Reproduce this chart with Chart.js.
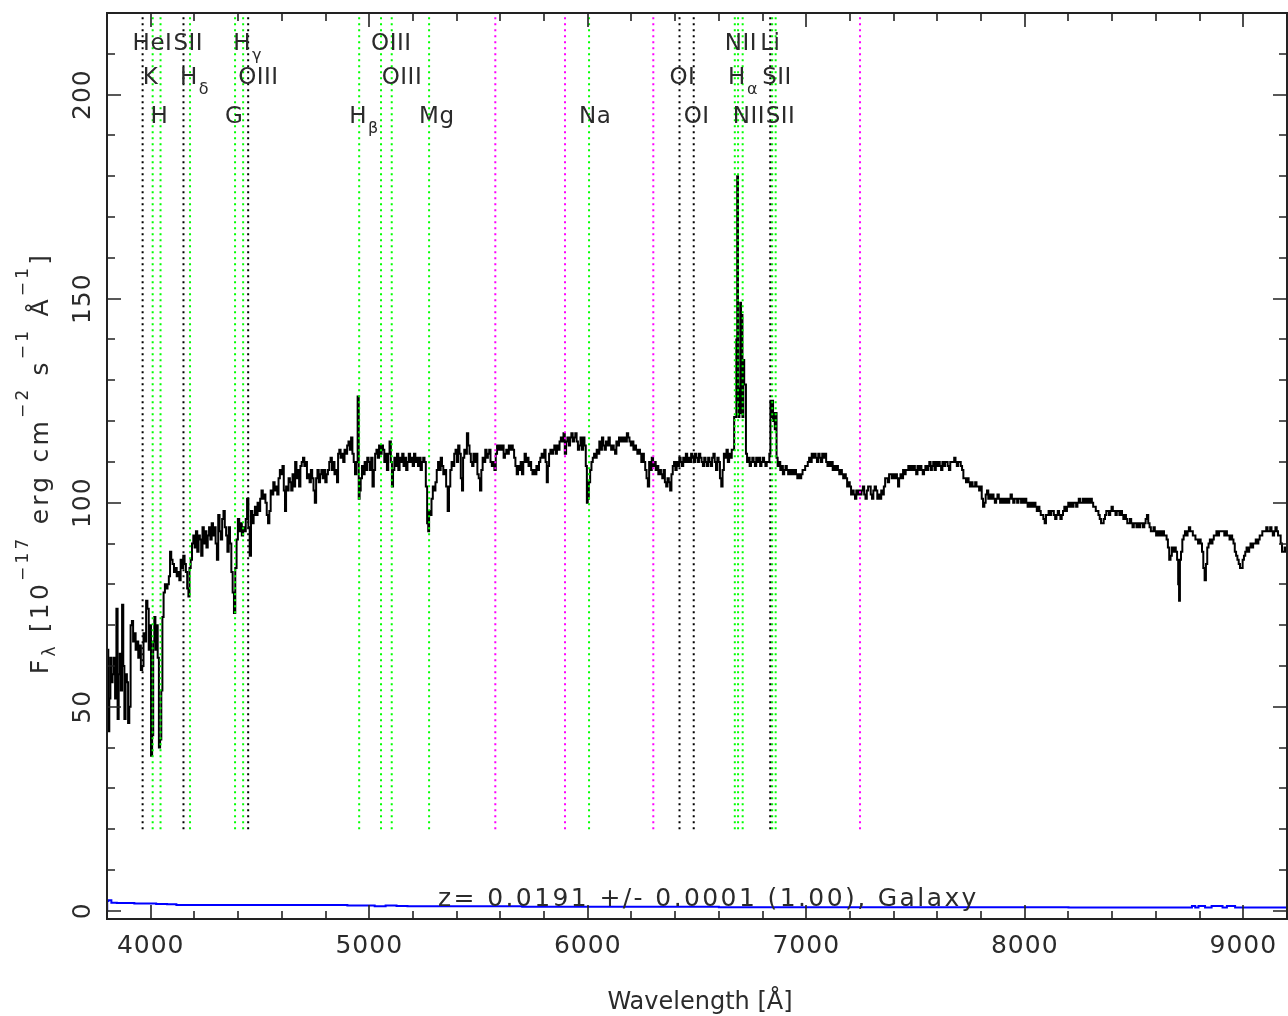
<!DOCTYPE html>
<html><head><meta charset="utf-8">
<script src="https://cdn.jsdelivr.net/npm/chart.js@4.4.1/dist/chart.umd.min.js"></script>
<style>html,body{margin:0;padding:0;background:#fff;}#wrap{width:1288px;height:1016px;position:relative;}</style>
</head><body><div id="wrap"><canvas id="c"></canvas></div>
<script>
// ---------- axis ranges & ticks ----------
const xMin = 3800, xMax = 9200, yMin = -2, yMax = 220;
const xTickValues = [4000, 5000, 6000, 7000, 8000, 9000];
const xTickLabels = ['4000', '5000', '6000', '7000', '8000', '9000'];
const yTickValues = [0, 50, 100, 150, 200];
const yTickLabels = ['0', '50', '100', '150', '200'];
const xMinorStep = 200, yMinorStep = 10;

// ---------- observed spectrum (wavelength in Å, flux in 1e-17 erg/cm2/s/Å) ----------
const wavelength = [
 3800,3804,3808,3813,3818,3823,3828,3834,3840,3846,3851,3856,3861,3866,3872,3877,3882,3888,3894,3899,
 3905,3911,3917,3922,3928,3934,3940,3946,3952,3958,3964,3970,3976,3982,3988,3994,3999,4004,4009,4014,
 4019,4024,4029,4035,4040,4046,4051,4056,4062,4068,4074,4080,4086,4091,4097,4103,4110,4116,4122,4128,
 4134,4140,4146,4152,4158,4164,4170,4175,4180,4186,4192,4198,
 4204,4210,4216,4222,4228,4234,4240,4246,4252,4258,4264,4270,4276,4282,4288,4294,4300,4306,4312,4318,
 4324,4330,4336,4342,4348,4354,4360,4366,4372,4378,4384,4390,4396,4402,4408,4414,4420,4426,4432,4438,
 4444,4450,4456,4462,4468,4474,4480,4486,4492,4498,4504,4510,4516,4522,4528,4534,4540,4546,4552,4558,
 4564,4570,4576,4582,4588,4594,4600,4606,4612,4617,4622,4628,4634,4640,4646,4652,4658,4664,4670,4676,
 4682,4688,4694,4700,4706,4712,4718,4724,4730,4736,4742,4748,4754,4760,4766,4772,4778,4784,4790,4796,
 4802,4808,4814,4820,4826,4832,4838,4844,4850,4855,4860,4866,4872,4878,4884,4890,4896,4902,4908,4914,
 4920,4926,4932,4938,4944,4950,4954,4958,
 4964,4970,4976,4982,4988,4994,5000,5006,5012,5018,5024,5030,5036,5042,5048,5054,5060,5066,5072,5078,
 5084,5090,5096,5102,5106,5112,5118,5124,5130,5136,5142,5148,5154,5160,5166,5172,5178,5184,5190,5196,
 5202,5208,5214,5220,5226,5232,5238,5244,5250,5256,5262,5268,5272,5276,5282,5288,5294,5300,5306,5312,
 5318,5324,5330,5336,5342,5348,5356,5362,5368,5374,5380,5386,5392,5398,5404,5410,5416,5422,5427,5432,
 5438,5444,5450,5456,5462,5468,5474,5480,5486,5492,5498,5504,5510,5516,5522,5528,5534,5540,5546,5552,
 5558,5564,5570,5576,5582,5588,5594,5600,5606,5612,5618,5624,5630,5636,5642,5648,5654,5660,5666,5672,
 5678,5684,5690,5696,
 5702,5708,5714,5720,5726,5732,5738,5744,5750,5756,5762,5768,5774,5780,5786,5792,5798,5804,5810,5815,
 5820,5826,5832,5838,5844,5850,5856,5862,5868,5874,5880,5886,5892,5898,5904,5910,5916,5922,5928,5934,
 5940,5946,5952,5958,5964,5970,5976,5982,5988,5994,5998,6002,6008,6014,6020,6026,6032,6038,6044,6050,
 6056,6062,6068,6074,6080,6086,6092,6098,6104,6110,6116,6122,6128,6134,6140,6146,6152,6158,6164,6170,
 6176,6182,6188,6194,6200,6206,6212,6218,6224,6230,6236,6242,6248,6254,6260,6266,6272,6278,6284,6290,
 6296,6302,6308,6314,6320,6326,6332,6338,6344,6350,6356,6362,6368,6374,6380,6386,6392,6398,6404,6410,
 6416,6422,6428,6434,6440,6446,6452,6458,6464,6470,6476,6482,6488,6494,6500,6506,6512,6518,6524,6530,
 6536,6542,6548,6554,6560,6566,6572,6578,6584,6590,6596,6602,6608,6614,6620,6626,6632,6638,6644,6650,
 6656,6662,6668,
 6672,6678,6682,6686,6689,6692,6696,6700,6703,6706,6710,6714,6718,6722,6726,
 6732,6738,6744,6750,6756,6762,6768,6774,6780,6786,6792,6798,6804,6810,6816,6822,6828,6834,6838,6842,
 6846,6850,6854,6858,6862,6866,
 6872,6878,6884,6890,6896,6902,6908,6914,6920,6926,6932,6938,6944,6950,6956,6962,6968,6974,6980,6986,
 6992,6998,7004,7010,7016,7022,7028,7034,7040,7046,7052,7058,7064,7070,7076,7082,7088,7094,7100,7106,
 7112,7118,7124,7130,7136,7142,7148,7154,7160,7166,7172,7178,7184,7190,7196,7202,7208,7214,7220,7226,
 7232,7238,7244,7250,7256,7262,7268,7274,7280,7286,7292,7298,
 7304,7310,7316,7322,7328,7334,7340,7346,7352,7358,7364,7370,7376,7382,7388,7394,7400,7406,7412,7418,
 7422,7428,7434,7440,7446,7452,7458,7464,7470,7476,7482,7488,7494,7500,7506,7512,7518,7524,7530,7536,
 7542,7548,7554,7560,7566,7572,7578,7584,7590,7596,7602,7608,7614,7620,7626,7632,7638,7644,7650,7656,
 7662,7668,7674,7680,7686,7692,7698,7704,7710,7716,7722,7728,7734,7740,7746,7752,7758,7764,7770,7776,
 7782,7788,7794,7800,7806,7812,7818,7824,7830,7836,7842,7848,7854,7860,7866,7872,7878,7884,7890,7896,
 7902,7908,7914,7920,7926,7932,7938,7944,7950,7956,7962,7968,7974,7980,7986,7992,7998,8004,8010,8016,
 8022,8028,8034,8040,8046,8052,8058,8064,8070,8076,8082,8088,8094,8100,
 8106,8112,8118,8124,8130,8136,8142,8148,8154,8160,8166,8172,8178,8184,8190,8196,8202,8208,8214,8220,
 8226,8232,8238,8244,8250,8256,8262,8268,8274,8280,8286,8292,8298,8304,8310,8316,8322,8328,8334,8340,
 8346,8352,8358,8364,8370,8376,8382,8388,8394,8400,8406,8412,8418,8424,8430,8436,8442,8448,8454,8460,
 8466,8472,8478,8484,8490,8496,8502,8508,8514,8520,8526,8532,8538,8544,8550,8556,8562,8568,8574,8580,
 8586,8592,8598,8604,8610,8616,8622,8628,8634,8640,8646,8652,8658,8664,8670,8676,8682,8688,8694,8700,
 8704,8708,8712,8718,8724,8730,8736,8742,8748,8754,8760,8766,8772,8778,8784,8790,8796,8802,8808,8814,
 8820,8826,8832,8838,8844,8850,8856,8862,8868,8874,8880,8886,8892,8898,8904,8910,8916,8922,8928,8934,
 8940,8946,8952,8958,8964,8970,8976,8982,8988,8994,9000,9006,9012,9018,9024,9030,9036,9042,9048,9054,
 9060,9066,9072,9078,9084,9090,9096,9102,9108,9114,9120,9126,9132,9138,9144,9150,9156,9162,9168,9174,
 9180,9186,9192,9198
];
const flux = [
 60,64,44,52,62,56,58,62,52,74,47,58,63,54,75,60,47,58,56,46,
 50,70,71,66,68,64,66,62,65,59,60,68,66,76,74,64,70,38,43,66,
 72,64,70,62,40,42,54,72,78,80,79,80,82,88,86,85,83,84,82,83,
 81,86,84,87,85,83,79,77,84,86,90,92,
 89,93,88,92,91,87,94,90,93,89,92,94,91,95,92,94,90,86,97,93,
 91,96,98,94,92,88,94,90,83,78,73,84,91,96,93,95,92,94,93,96,
 101,94,87,98,95,97,99,97,100,98,101,103,101,102,100,97,95,98,103,102,
 105,103,104,102,106,108,107,109,103,98,104,103,106,105,103,107,104,110,106,108,
 104,109,110,111,109,110,106,107,105,108,106,103,100,106,108,105,107,108,106,108,
 105,107,108,110,111,108,110,107,108,105,112,113,111,112,110,113,112,114,115,113,
 116,112,110,107,110,126,101,103,
 106,109,107,110,108,111,110,108,111,104,108,112,113,111,114,112,114,113,110,112,
 108,112,115,110,104,108,111,109,112,108,111,110,112,109,111,108,110,112,110,111,
 109,112,110,111,109,111,108,110,111,110,104,95,93,98,97,101,104,103,105,108,
 110,108,111,109,107,108,104,98,104,108,110,109,112,113,110,114,112,106,103,111,
 113,112,117,114,112,110,109,112,110,112,107,106,103,108,111,110,113,111,112,113,
 110,109,110,108,112,114,113,114,113,114,111,112,113,112,114,113,114,113,111,109,
 107,109,108,110,
 107,110,112,110,111,109,110,108,107,108,107,109,108,110,111,112,111,113,110,105,
 109,112,113,112,113,114,112,114,113,115,116,115,117,112,115,116,114,116,117,115,
 116,117,115,113,114,116,113,116,114,109,100,101,105,108,110,111,112,111,113,112,
 115,113,116,114,113,115,114,116,114,113,114,113,112,115,114,116,115,116,115,116,
 115,117,116,115,114,115,113,114,113,112,113,112,110,112,110,108,106,104,110,108,
 111,109,110,108,109,107,108,107,106,108,105,104,106,105,103,107,109,110,108,110,
 109,111,110,109,111,110,112,110,111,110,112,111,110,112,111,110,112,111,110,109,
 111,110,109,111,110,109,111,112,110,108,111,110,106,104,108,112,111,113,110,112,
 111,113,113,
 121,121,140,180,125,121,128,149,122,146,121,135,129,129,112,
 110,111,109,110,111,110,109,111,110,111,109,110,111,110,109,110,110,112,125,121,
 125,120,122,118,122,111,
 109,110,108,109,107,108,109,108,107,108,107,108,107,108,107,106,107,106,107,108,
 108,109,109,110,111,110,112,111,112,111,110,112,111,110,112,111,112,110,109,110,
 109,110,108,109,108,109,108,107,108,107,106,107,106,104,105,104,102,103,102,101,
 103,102,103,102,103,104,102,101,103,104,104,102,
 101,103,104,103,101,102,101,103,102,104,106,106,105,107,107,106,107,106,107,106,
 104,106,107,106,108,107,108,108,109,108,109,108,109,108,107,109,108,109,108,107,
 108,109,108,109,110,108,109,110,108,110,109,110,109,108,110,109,110,110,109,108,
 110,110,110,111,110,109,110,110,109,108,106,106,105,106,105,104,105,104,104,105,
 104,104,103,104,101,99,100,102,103,101,102,101,102,101,100,101,102,101,100,101,
 100,101,100,101,100,101,102,101,100,101,101,100,101,101,100,101,100,101,100,99,
 100,99,100,99,100,99,98,99,98,97,97,96,95,97,
 97,98,97,98,98,97,96,97,98,97,96,97,98,99,98,99,100,99,100,99,
 100,100,99,100,101,100,100,101,100,101,100,101,100,101,100,99,99,98,98,97,
 96,95,95,96,97,98,98,97,98,99,98,98,97,98,98,97,98,97,96,97,
 96,95,95,96,95,94,95,95,94,95,94,95,95,94,95,96,97,95,94,93,
 93,94,93,92,93,92,93,92,93,92,92,91,89,86,87,89,88,89,88,86,
 80,76,86,88,91,92,93,92,93,94,93,93,92,92,91,91,90,91,90,88,
 84,81,85,89,90,91,90,91,92,92,93,92,93,93,93,93,92,93,92,92,
 91,92,91,90,88,87,86,85,84,84,86,87,88,89,88,89,90,89,90,90,
 91,90,91,92,92,93,93,93,94,93,93,94,93,92,93,94,93,92,92,90,
 88,88,89,88
];

// ---------- error spectrum ----------
const errWavelength = [3800,3802,3810,3830,3860,3900,3950,4000,4050,4100,4135,4200,4400,4600,4800,5000,5050,5100,5150,5200,
 5400,5600,5800,6000,6400,6800,7200,7600,8000,8400,8760,8770,8790,8800,8850,8860,8900,8910,8940,8950,8975,9000,9200];
const errFlux = [0,2.4,2.6,2.0,1.9,1.9,1.8,1.8,1.7,1.6,1.4,1.4,1.4,1.4,1.4,1.3,1.1,1.3,1.2,1.1,
 1.1,1.1,1.0,1.0,1.0,0.9,0.9,0.9,0.9,0.8,0.8,1.2,0.8,1.2,0.8,1.2,1.2,0.8,1.2,1.2,0.8,0.8,0.8];

// ---------- spectral line markers (observed wavelength) ----------
const lineWl    = [3963,4009,4045,4150,4180,4386,4423,4446,4954,5054,5103,5274,5577,5896,6006,6300,6420,6485,6673,6688,6709,6835,6844,6860,7246];
const lineKind  = ['k','g','g','k','g','g','g','k','g','g','g','g','m','m','g','m','k','k','g','g','g','k','g','g','m'];
const lineText  = ['HeI','K','H','SII','H','G','H','OIII','H','OIII','OIII','Mg','','','Na','','OI','OI','NII','H','NII','Li','SII','SII',''];
const lineSub   = ['','','','','δ','','γ','','β','','','','','','','','','','','α','','','','',''];
const lineRow   = [0,1,2,0,1,2,0,1,2,0,1,2,-1,-1,2,-1,1,2,0,1,2,0,1,2,-1];
const kindColor = {k:'#000000', g:'#00ff00', m:'#ff00ff'};
const lineFrom = 20;
const rowBaselinePx = [50, 84, 123];

const FF = '"DejaVu Sans", "Liberation Sans", sans-serif';
const TXT = '#2b2b2b';

function setFont(ctx, s){ ctx.font = s + 'px ' + FF; }
function richWidth(ctx, parts){ let w=0; for(const p of parts){ setFont(ctx,p.s); w += ctx.measureText(p.t).width + (p.gap||0); } return w; }
function drawRich(ctx, parts, x, y){ let cx=x; for(const p of parts){ setFont(ctx,p.s); ctx.fillText(p.t, cx, y+(p.dy||0)); cx += ctx.measureText(p.t).width + (p.gap||0); } }

const framePlugin = {
  id: 'frame',
  afterDraw(chart){
    const ctx = chart.ctx, a = chart.chartArea, xs = chart.scales.x, ys = chart.scales.y;
    ctx.save();
    ctx.strokeStyle = '#222'; ctx.lineWidth = 2;
    ctx.strokeRect(a.left, a.top, a.right - a.left, a.bottom - a.top);
    ctx.lineWidth = 1.6;
    ctx.beginPath();
    for (let v = xMin; v <= xMax; v += xMinorStep){
      const px = Math.round(xs.getPixelForValue(v));
      const len = xTickValues.includes(v) ? 14 : 8;
      ctx.moveTo(px, a.bottom); ctx.lineTo(px, a.bottom - len);
      ctx.moveTo(px, a.top); ctx.lineTo(px, a.top + len);
    }
    for (let v = 0; v <= yMax; v += yMinorStep){
      const py = Math.round(ys.getPixelForValue(v));
      const len = yTickValues.includes(v) ? 14 : 8;
      ctx.moveTo(a.left, py); ctx.lineTo(a.left + len, py);
      ctx.moveTo(a.right, py); ctx.lineTo(a.right - len, py);
    }
    ctx.stroke();

    ctx.fillStyle = TXT;
    ctx.textBaseline = 'alphabetic';
    // x tick labels
    ctx.textAlign = 'center'; ctx.letterSpacing = '1px';
    setFont(ctx, 25);
    xTickValues.forEach((v,i)=> ctx.fillText(xTickLabels[i], xs.getPixelForValue(v), 953));
    // y tick labels (rotated)
    yTickValues.forEach((v,i)=>{
      ctx.save(); ctx.translate(90, ys.getPixelForValue(v)); ctx.rotate(-Math.PI/2);
      setFont(ctx,25); ctx.fillText(yTickLabels[i], 0, 0); ctx.restore();
    });
    // x title
    ctx.letterSpacing = '0px';
    setFont(ctx, 24);
    ctx.fillText('Wavelength [Å]', 700, 1009);
    // y title
    ctx.textAlign = 'left'; ctx.letterSpacing = '3.2px';
    const yt = [
      {t:'F',s:25},{t:'λ',s:17,dy:7},{t:' [10',s:25},{t:'−17',s:17,dy:-20},{t:' erg cm',s:25},
      {t:'−2',s:17,dy:-20},{t:' s',s:25},{t:'−1',s:17,dy:-20},{t:' Å',s:25},{t:'−1',s:17,dy:-20},{t:']',s:25}
    ];
    const w = richWidth(ctx, yt);
    ctx.save(); ctx.translate(48, 463); ctx.rotate(-Math.PI/2);
    drawRich(ctx, yt, -w/2, 0); ctx.restore();
    // redshift text
    ctx.letterSpacing = '2.4px'; ctx.textAlign = 'center';
    setFont(ctx, 25);
    ctx.fillText('z= 0.0191 +/- 0.0001 (1.00), Galaxy', xs.getPixelForValue(6552), 906);
    // line labels
    ctx.textAlign = 'left'; ctx.letterSpacing = '0.5px';
    lineWl.forEach((wl,i)=>{
      if (lineRow[i] < 0 || !lineText[i]) return;
      const px = xs.getPixelForValue(wl) - 10;
      const base = rowBaselinePx[lineRow[i]];
      const parts = [{t:lineText[i], s:23, gap:1}];
      if (lineSub[i]) parts.push({t:lineSub[i], s:16, dy:10});
      drawRich(ctx, parts, px, base);
    });
    ctx.restore();
  }
};

const spectrumData = wavelength.map((w,i)=>({x:w, y:flux[i]}));
const errorData = errWavelength.map((w,i)=>({x:w, y:errFlux[i]}));
const lineDatasets = lineWl.map((wl,i)=>({
  data:[{x:wl, y:lineFrom},{x:wl, y:yMax}],
  borderColor: kindColor[lineKind[i]], borderWidth: 2, borderDash:[2,4],
  pointRadius:0, order:0, clip:false
}));

new Chart(document.getElementById('c'), {
  type: 'line',
  data: { datasets: [
    ...lineDatasets,
    { data: spectrumData, borderColor:'#000', borderWidth:2, pointRadius:0, stepped:'middle', order:1 },
    { data: errorData, borderColor:'#0000ff', borderWidth:2, pointRadius:0, stepped:'middle', order:2 }
  ]},
  options: {
    responsive: true, maintainAspectRatio: false, animation: false, devicePixelRatio: 1,
    layout: { padding: { left:107, top:13, right:1, bottom:97 } },
    plugins: { legend:{display:false}, tooltip:{enabled:false} },
    scales: {
      x: { type:'linear', min:xMin, max:xMax, display:false },
      y: { type:'linear', min:yMin, max:yMax, display:false }
    }
  },
  plugins: [framePlugin]
});
</script>
</body></html>
